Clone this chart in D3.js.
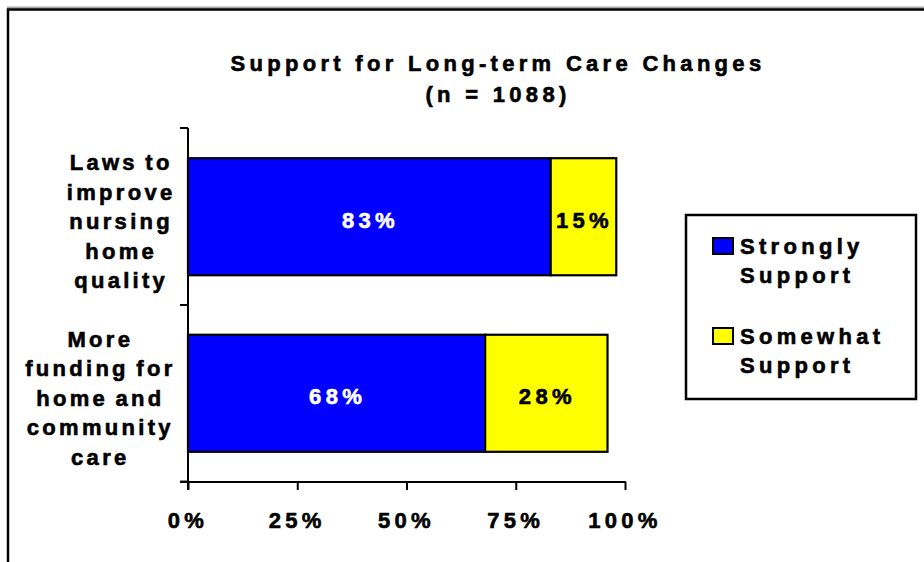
<!DOCTYPE html>
<html>
<head>
<meta charset="utf-8">
<script src="https://cdn.jsdelivr.net/npm/d3@7"></script>
<style>
  html, body { margin: 0; padding: 0; background: #fff; }
  svg { display: block; }
  text { font-family: "Liberation Sans", Arial, sans-serif; font-weight: bold; }
</style>
</head>
<body>
<svg id="chart" width="924" height="562"></svg>
<script>
// ---- data ----
const categories = ["Laws to improve nursing home quality", "More funding for home and community care"];
const categoryLines = [["Laws to", "improve", "nursing", "home", "quality"],
                       ["More", "funding for", "home and", "community", "care"]];
const seriesNames = ["Strongly Support", "Somewhat Support"];
const legendLines = [["Strongly", "Support"], ["Somewhat", "Support"]];
const stronglySupport = [83, 68];
const somewhatSupport = [15, 28];
const xTicks = [0, 25, 50, 75, 100];
const titleLines = ["Support for Long-term Care Changes", "(n = 1088)"];
const colors = ["#0000FF", "#FFFF00"];
const labelColors = ["#FFFFFF", "#000000"];

// ---- setup ----
const svg = d3.select("#chart");
const FS = 22, LS = 4.3;

function txt(parent, x, y, s, anchor, fill, ls, ws) {
  const c = fill || "#000";
  return parent.append("text")
    .attr("x", x).attr("y", y)
    .attr("text-anchor", anchor || "start")
    .style("font-size", FS + "px")
    .style("letter-spacing", (ls == null ? LS : ls) + "px")
    .style("word-spacing", (ws || 0) + "px")
    .attr("fill", c)
    .attr("stroke", c).attr("stroke-width", 0.6)
    .text(s);
}

// frame
svg.append("line").attr("x1", 7).attr("x2", 930).attr("y1", 7.5).attr("y2", 7.5)
  .attr("stroke", "#a8a8a8").attr("stroke-width", 2);
svg.append("rect").attr("x", 8).attr("y", 9.5).attr("width", 940).attr("height", 580)
  .attr("fill", "none").attr("stroke", "#000").attr("stroke-width", 2.5);

// title
txt(svg, 498, 70.5, titleLines[0], "middle");
txt(svg, 498, 102, titleLines[1], "middle");

// scales
const x = d3.scaleLinear().domain([0, 100]).range([188, 625]);
const y = d3.scaleBand().domain(categories).range([128, 482]).paddingInner(0.337).paddingOuter(0.171);

// stacked data
const rows = categories.map((c, i) => ({ cat: c, vals: [stronglySupport[i], somewhatSupport[i]] }));
const segs = [];
rows.forEach(r => {
  let acc = 0;
  r.vals.forEach((v, k) => { segs.push({ cat: r.cat, k, x0: acc, x1: acc + v, v }); acc += v; });
});

svg.append("g").selectAll("rect").data(segs).join("rect")
  .attr("x", d => x(d.x0)).attr("width", d => x(d.x1) - x(d.x0))
  .attr("y", d => y(d.cat)).attr("height", y.bandwidth())
  .attr("fill", d => colors[d.k]).attr("stroke", "#000").attr("stroke-width", 2.2);

// data labels
const lblG = svg.append("g");
segs.forEach(d => {
  txt(lblG, (x(d.x0) + x(d.x1)) / 2 + 1, y(d.cat) + y.bandwidth() / 2 + 11, d.v + "%", "middle", labelColors[d.k]);
});

// axes
const xAxis = d3.axisBottom(x).tickValues(xTicks).tickSize(8).tickFormat(() => "");
const xg = svg.append("g").attr("transform", "translate(0,482)").call(xAxis);
xg.select(".domain").remove();
xg.selectAll(".tick line").attr("stroke", "#000").attr("stroke-width", 2);
svg.append("line").attr("x1", 180).attr("x2", x(100) + 1).attr("y1", 482).attr("y2", 482)
  .attr("stroke", "#000").attr("stroke-width", 2);
xTicks.forEach(t => txt(svg, x(t), 528, t + "%", "middle"));

// y axis
svg.append("line").attr("x1", 188).attr("x2", 188).attr("y1", 128).attr("y2", 490)
  .attr("stroke", "#000").attr("stroke-width", 2);
const bounds = [y.range()[0]].concat(categories.map(c => y(c) + y.bandwidth() + y.step() * y.paddingInner() / 2));
bounds.forEach(b => {
  svg.append("line").attr("x1", 180).attr("x2", 188).attr("y1", b).attr("y2", b)
    .attr("stroke", "#000").attr("stroke-width", 2);
});

// category labels
const CLS = 3.3, CWS = -2;
const catG = svg.append("g");
categories.forEach((c, i) => {
  const lines = categoryLines[i];
  const tmp = lines.map(l => txt(catG, 0, -100, l, "start", null, CLS, CWS));
  const maxW = d3.max(tmp, t => t.node().getComputedTextLength());
  tmp.forEach(t => t.remove());
  const cx = 175.5 - maxW / 2;
  const cy = y(c) + y.bandwidth() / 2;
  lines.forEach((l, j) => {
    txt(catG, cx, cy + 12.5 + (j - (lines.length - 1) / 2) * 29.4, l, "middle", null, CLS, CWS);
  });
});

// legend
const lg = svg.append("g");
lg.append("rect").attr("x", 686).attr("y", 215).attr("width", 230).attr("height", 184)
  .attr("fill", "#fff").attr("stroke", "#000").attr("stroke-width", 2.5);
seriesNames.forEach((s, i) => {
  const top = 238 + i * 90;
  lg.append("rect").attr("x", 713).attr("y", top).attr("width", 20).attr("height", 16)
    .attr("fill", colors[i]).attr("stroke", "#000").attr("stroke-width", 2);
  legendLines[i].forEach((l, j) => txt(lg, 740, top + 15.5 + j * 29, l, "start"));
});
</script>
</body>
</html>
